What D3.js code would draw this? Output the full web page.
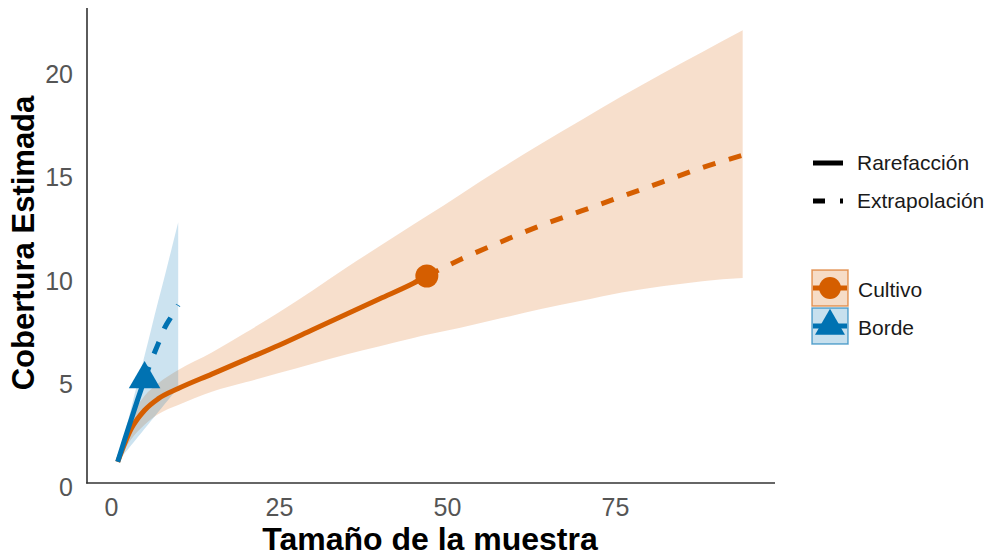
<!DOCTYPE html>
<html>
<head>
<meta charset="utf-8">
<script src="https://cdn.jsdelivr.net/npm/d3@7"></script>
<style>
  body { margin: 0; background: #fff; }
  svg { display: block; font-family: "Liberation Sans", Arial, sans-serif; }
</style>
</head>
<body>
<svg id="chart" width="992" height="556"></svg>
<script>
// tick labels
var xTicks = [0, 25, 50, 75];
var yTicks = [0, 5, 10, 15, 20];

// Cultivo - rarefaccion (observed at n = 47)
var cultivoRareX = [1, 3, 5, 7, 10, 15, 20, 25, 30, 35, 40, 45, 47];
var cultivoRareY = [1.0, 2.6, 3.5, 4.05, 4.55, 5.25, 5.95, 6.65, 7.4, 8.15, 8.9, 9.65, 10.0];
var cultivoRareLo = [1.0, 2.1, 2.8, 3.3, 3.75, 4.4, 4.85, 5.3, 5.75, 6.2, 6.6, 7.0, 7.15];
var cultivoRareHi = [1.0, 3.1, 4.2, 4.8, 5.45, 6.3, 7.25, 8.25, 9.3, 10.4, 11.45, 12.5, 12.9];

// Cultivo - extrapolacion
var cultivoExtX = [47, 52, 58, 64, 70, 76, 82, 88, 94];
var cultivoExtY = [10.0, 10.8, 11.65, 12.45, 13.15, 13.85, 14.55, 15.25, 15.85];
var cultivoExtLo = [7.15, 7.5, 7.95, 8.4, 8.8, 9.2, 9.5, 9.75, 9.9];
var cultivoExtHi = [12.9, 13.95, 15.2, 16.4, 17.55, 18.7, 19.8, 20.85, 21.9];

// Borde - rarefaccion (observed at n = 5)
var bordeRareX = [1, 2, 3, 4, 5];
var bordeRareY = [1.0, 2.05, 3.05, 4.05, 5.0];
var bordeRareLo = [1.0, 1.4, 1.8, 2.2, 2.6];
var bordeRareHi = [1.0, 2.3, 3.6, 4.9, 6.15];

// Borde - extrapolacion
var bordeExtX = [5, 6, 7, 8, 9, 10];
var bordeExtY = [5.0, 5.9, 6.7, 7.5, 8.05, 8.6];
var bordeExtLo = [2.6, 3.0, 3.4, 3.8, 4.2, 4.6];
var bordeExtHi = [6.15, 7.45, 8.75, 10.0, 11.3, 12.6];

var methodNames = ['Rarefacción', 'Extrapolación'];

var ORANGE = '#D55E00';
var BLUE = '#0072B2';

var svg = d3.select('#chart');

var x = d3.scaleLinear().domain([0, 25]).range([111, 279]);
var y = d3.scaleLinear().domain([0, 20]).range([482.5, 69.5]);

function rows(xs, ys, lo, hi) {
  return xs.map(function(d, i) { return {x: d, y: ys[i], lo: lo[i], hi: hi[i]}; });
}

var series = [
  {name: 'Cultivo', color: ORANGE, shape: d3.symbolCircle, size: 415,
   rare: rows(cultivoRareX, cultivoRareY, cultivoRareLo, cultivoRareHi),
   ext: rows(cultivoExtX, cultivoExtY, cultivoExtLo, cultivoExtHi)},
  {name: 'Borde', color: BLUE, shape: d3.symbolTriangle, size: 432,
   rare: rows(bordeRareX, bordeRareY, bordeRareLo, bordeRareHi),
   ext: rows(bordeExtX, bordeExtY, bordeExtLo, bordeExtHi)}
];

var line = d3.line().x(function(d) { return x(d.x); }).y(function(d) { return y(d.y); }).curve(d3.curveMonotoneX);
var band = d3.area().x(function(d) { return x(d.x); })
  .y0(function(d) { return y(d.lo); }).y1(function(d) { return y(d.hi); }).curve(d3.curveMonotoneX);

//ribbons
svg.append('g').selectAll('path').data(series).enter().append('path')
  .attr('d', function(s) { return band(s.rare.concat(s.ext.slice(1))); })
  .attr('fill', function(s) { return s.color; })
  .attr('fill-opacity', 0.2);

//lines
var lines = svg.append('g').selectAll('g').data(series).enter().append('g');
lines.append('path')
  .attr('d', function(s) { return line(s.rare); })
  .attr('fill', 'none').attr('stroke', function(s) { return s.color; })
  .attr('stroke-width', 5);
lines.append('path')
  .attr('d', function(s) { return line(s.ext); })
  .attr('fill', 'none').attr('stroke', function(s) { return s.color; })
  .attr('stroke-width', 5).attr('stroke-dasharray', '13,14');

//observed points
svg.append('g').selectAll('path').data(series).enter().append('path')
  .attr('transform', function(s) { var p = s.rare[s.rare.length - 1]; return 'translate(' + x(p.x) + ',' + y(p.y) + ')'; })
  .attr('d', function(s) { return d3.symbol().type(s.shape).size(s.size)(); })
  .attr('fill', function(s) { return s.color; });

//axes
var xAxis = svg.append('g').attr('transform', 'translate(0,483)')
  .call(d3.axisBottom(x).tickValues(xTicks).tickSize(0).tickPadding(15));
xAxis.select('.domain').remove();
xAxis.selectAll('text').attr('font-size', 25).attr('fill', '#555').attr('font-family', '"Liberation Sans", Arial, sans-serif');

var yAxis = svg.append('g').attr('transform', 'translate(87,0)')
  .call(d3.axisLeft(y).tickValues(yTicks).tickSize(0).tickPadding(14));
yAxis.select('.domain').remove();
yAxis.selectAll('text').attr('font-size', 25).attr('fill', '#555').attr('dy', '0.52em').attr('font-family', '"Liberation Sans", Arial, sans-serif');

svg.append('line').attr('x1', 87).attr('x2', 87).attr('y1', 8).attr('y2', 483.5)
  .attr('stroke', '#333').attr('stroke-width', 1.6);
svg.append('line').attr('x1', 86.2).attr('x2', 775).attr('y1', 483).attr('y2', 483)
  .attr('stroke', '#333').attr('stroke-width', 1.6);

//titles
svg.append('text').text('Tamaño de la muestra')
  .attr('x', 430).attr('y', 550).attr('text-anchor', 'middle')
  .attr('font-size', 32).attr('font-weight', 'bold').attr('fill', '#000');
svg.append('text').text('Cobertura Estimada')
  .attr('transform', 'translate(34,243) rotate(-90)').attr('text-anchor', 'middle')
  .attr('font-size', 31).attr('font-weight', 'bold').attr('fill', '#000');

//legend - method
var methodLegend = svg.append('g').selectAll('g').data(methodNames).enter().append('g')
  .attr('transform', function(d, i) { return 'translate(813,' + (163 + i * 38) + ')'; });
methodLegend.append('line').attr('x1', 0).attr('x2', 30).attr('y1', 0).attr('y2', 0)
  .attr('stroke', '#000').attr('stroke-width', 5)
  .attr('stroke-dasharray', function(d, i) { return i ? '12,15' : null; });
methodLegend.append('text').text(function(d) { return d; })
  .attr('x', 44).attr('y', 7).attr('font-size', 21).attr('fill', '#1a1a1a');

//legend - series
var seriesLegend = svg.append('g').selectAll('g').data(series).enter().append('g')
  .attr('transform', function(d, i) { return 'translate(812,' + (270 + i * 38) + ')'; });
seriesLegend.append('rect').attr('x', 0).attr('y', 0).attr('width', 36).attr('height', 36)
  .attr('fill', function(s) { return s.color; }).attr('fill-opacity', 0.22)
  .attr('stroke', function(s) { return s.color; }).attr('stroke-opacity', 0.6).attr('stroke-width', 1.5);
seriesLegend.append('line').attr('x1', 1).attr('x2', 35).attr('y1', 18).attr('y2', 18)
  .attr('stroke', function(s) { return s.color; }).attr('stroke-width', 5);
seriesLegend.append('path')
  .attr('transform', 'translate(18,18)')
  .attr('d', function(s) { return d3.symbol().type(s.shape).size(s.size * 0.9)(); })
  .attr('fill', function(s) { return s.color; });
seriesLegend.append('text').text(function(s) { return s.name; })
  .attr('x', 46).attr('y', 27).attr('font-size', 21).attr('fill', '#1a1a1a');
</script>
</body>
</html>
